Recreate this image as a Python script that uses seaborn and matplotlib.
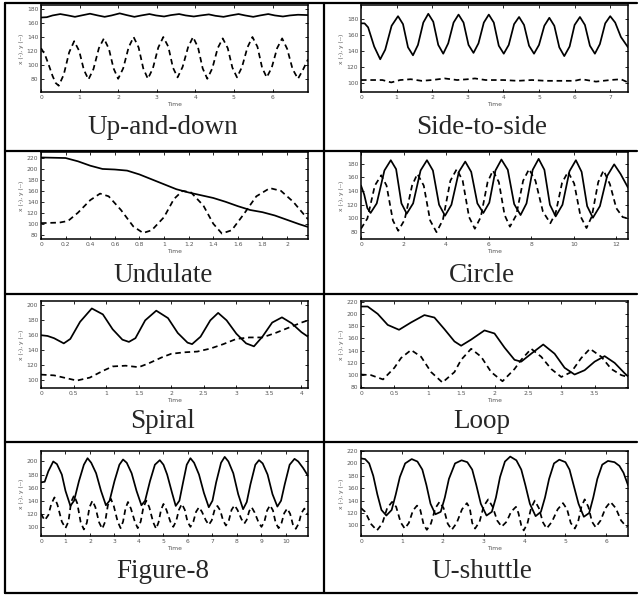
import matplotlib
matplotlib.use("Agg")
import matplotlib.pyplot as plt
import seaborn as sns
from matplotlib.lines import Line2D
from matplotlib.ticker import FormatStrFormatter

# ---------------- data ----------------
titles = ["Up-and-down", "Side-to-side", "Undulate", "Circle",
          "Spiral", "Loop", "Figure-8", "U-shuttle"]

updown_x = [(0,168),(0.15,168.5),(0.3,171),(0.5,173),(0.7,171),(0.88,169),(1.05,171),(1.27,173.5),(1.47,171),(1.65,169),(1.83,171),(2.04,174),(2.22,171.5),(2.42,169),(2.6,171),(2.81,173),(2.98,171),(3.19,169.5),(3.37,171.5),(3.58,173),(3.75,171),(3.96,169.5),(4.14,171),(4.35,172.5),(4.52,170.5),(4.73,169),(4.91,171),(5.12,173),(5.29,171),(5.5,169),(5.68,171),(5.89,173),(6.06,171),(6.27,169.5),(6.45,171),(6.66,172),(6.92,171.5)]
updown_y = [(0,124),(0.1,115),(0.2,100),(0.3,84),(0.38,74),(0.46,70),(0.59,86),(0.73,118),(0.86,134),(0.99,120),(1.11,93),(1.23,79),(1.36,94),(1.50,124),(1.63,138),(1.76,123),(1.88,95),(2.00,80),(2.13,95),(2.27,125),(2.40,140),(2.53,125),(2.65,95),(2.77,80),(2.90,95),(3.04,125),(3.17,140),(3.30,126),(3.42,96),(3.54,82),(3.67,97),(3.81,125),(3.94,140),(4.07,125),(4.19,95),(4.31,80),(4.44,95),(4.58,124),(4.71,138),(4.84,124),(4.96,96),(5.08,82),(5.21,97),(5.35,125),(5.48,140),(5.61,126),(5.73,96),(5.85,82),(5.98,96),(6.12,124),(6.25,138),(6.38,123),(6.52,94),(6.66,80),(6.79,93),(6.92,108)]

side_x = [(0,175),(0.1,175),(0.2,170),(0.37,146),(0.54,130),(0.68,142),(0.86,172),(1.04,184),(1.18,174),(1.32,145),(1.46,135),(1.6,148),(1.75,176),(1.89,187),(2.03,177),(2.17,148),(2.31,137),(2.45,150),(2.6,176),(2.74,186),(2.88,176),(3.02,148),(3.16,138),(3.3,150),(3.45,176),(3.59,186),(3.73,176),(3.87,147),(4.01,137),(4.15,148),(4.3,174),(4.44,183),(4.58,173),(4.72,147),(4.86,137),(5.0,148),(5.15,172),(5.29,182),(5.43,172),(5.57,145),(5.71,134),(5.86,146),(6.0,173),(6.15,183),(6.29,173),(6.43,147),(6.57,137),(6.71,149),(6.86,175),(7.0,184),(7.14,176),(7.3,158),(7.5,145)]
side_y = [(0,104),(0.3,104),(0.6,104),(0.85,101),(1.1,104),(1.4,105),(1.7,103),(2.0,104),(2.35,106),(2.7,104),(3.0,105),(3.2,106),(3.5,104),(4.0,104),(4.4,103),(4.8,104),(5.2,103),(5.6,103),(6.0,103),(6.2,105),(6.6,102),(7.0,104),(7.3,105),(7.5,101)]

und_x = [(0,221),(0.2,220),(0.3,214),(0.4,206),(0.5,200),(0.6,199),(0.7,197),(0.8,190),(0.9,181),(1.0,172),(1.1,163),(1.2,157),(1.3,152),(1.4,147),(1.5,140),(1.6,132),(1.7,125),(1.8,121),(1.9,115),(2.0,107),(2.1,99),(2.17,94)]
und_y = [(0,101),(0.15,102),(0.22,105),(0.3,120),(0.4,143),(0.48,155),(0.55,150),(0.65,125),(0.75,95),(0.83,83),(0.9,88),(1.0,112),(1.08,145),(1.15,160),(1.22,157),(1.32,133),(1.4,100),(1.47,82),(1.55,88),(1.65,118),(1.75,150),(1.86,165),(1.95,160),(2.05,140),(2.17,108)]

circ_x = [(0,148),(0.15,135),(0.3,115),(0.45,108),(0.74,122),(1.1,170),(1.4,185),(1.65,172),(1.9,122),(2.15,107),(2.45,122),(2.8,170),(3.1,185),(3.38,170),(3.67,120),(3.95,104),(4.25,120),(4.6,168),(4.9,183),(5.18,168),(5.47,122),(5.75,108),(6.03,123),(6.32,170),(6.6,186),(6.9,171),(7.2,121),(7.5,105),(7.78,122),(8.07,171),(8.35,187),(8.62,171),(8.88,120),(9.15,103),(9.47,120),(9.8,169),(10.1,185),(10.37,168),(10.63,118),(10.9,101),(11.23,118),(11.57,162),(11.9,179),(12.2,165),(12.55,145)]
circ_y = [(0,85),(0.3,100),(0.65,148),(0.95,163),(1.2,148),(1.5,97),(1.75,82),(2.05,98),(2.4,148),(2.65,165),(2.95,148),(3.25,97),(3.55,80),(3.85,98),(4.2,155),(4.5,172),(4.78,155),(5.08,102),(5.35,85),(5.63,102),(5.95,153),(6.2,170),(6.48,153),(6.75,105),(7.0,88),(7.3,105),(7.62,155),(7.9,172),(8.2,155),(8.55,110),(8.9,93),(9.15,108),(9.45,152),(9.73,168),(10.02,151),(10.32,103),(10.6,86),(10.85,103),(11.15,153),(11.4,170),(11.7,150),(12.0,115),(12.3,102),(12.55,100)]

spir_x = [(0,160),(0.1,159),(0.2,156),(0.35,149),(0.45,155),(0.6,178),(0.78,196),(0.95,188),(1.1,168),(1.25,154),(1.35,151),(1.45,156),(1.6,180),(1.77,193),(1.95,183),(2.1,163),(2.25,150),(2.32,148),(2.45,158),(2.6,180),(2.72,190),(2.85,180),(3.0,162),(3.15,149),(3.27,145),(3.4,158),(3.55,177),(3.7,184),(3.85,176),(4.0,164),(4.1,158)]
spir_y = [(0,107),(0.2,106),(0.4,102),(0.55,99),(0.75,103),(0.95,112),(1.1,118),(1.3,119),(1.5,117),(1.65,122),(1.85,130),(2.0,135),(2.2,137),(2.4,138),(2.6,142),(2.8,148),(3.0,155),(3.2,157),(3.4,157),(3.6,163),(3.8,170),(4.0,177),(4.1,180)]

loop_x = [(0,212),(0.1,212),(0.25,200),(0.4,182),(0.57,174),(0.75,186),(0.95,198),(1.1,194),(1.25,175),(1.4,155),(1.5,148),(1.65,158),(1.85,173),(2.0,168),(2.15,145),(2.3,125),(2.4,122),(2.55,135),(2.73,150),(2.9,135),(3.05,112),(3.2,101),(3.35,108),(3.5,122),(3.65,131),(3.8,120),(3.95,103),(4.0,98)]
loop_y = [(0,101),(0.15,100),(0.33,93),(0.5,112),(0.6,128),(0.75,141),(0.9,130),(1.05,105),(1.22,88),(1.4,105),(1.5,125),(1.65,143),(1.8,130),(1.95,105),(2.12,90),(2.3,110),(2.4,125),(2.55,143),(2.7,130),(2.85,110),(3.0,97),(3.15,105),(3.3,128),(3.43,143),(3.6,130),(3.75,110),(3.9,100),(4.0,97)]

fig8_x = [(0,168),(0.15,169),(0.3,185),(0.5,200),(0.65,196),(0.85,180),(1.0,155),(1.2,132),(1.35,140),(1.55,170),(1.75,195),(1.9,205),(2.05,198),(2.25,182),(2.45,155),(2.65,133),(2.8,140),(3.0,170),(3.2,195),(3.35,203),(3.5,198),(3.7,182),(3.9,155),(4.1,133),(4.25,140),(4.45,170),(4.65,195),(4.85,202),(5.0,195),(5.15,180),(5.35,152),(5.5,132),(5.65,140),(5.8,168),(5.95,195),(6.1,205),(6.25,198),(6.45,180),(6.65,152),(6.85,130),(7.0,140),(7.15,168),(7.35,198),(7.5,207),(7.65,200),(7.85,182),(8.05,150),(8.25,127),(8.4,138),(8.55,165),(8.75,195),(8.9,202),(9.05,197),(9.25,180),(9.45,150),(9.65,131),(9.8,140),(9.95,165),(10.15,195),(10.35,204),(10.5,200),(10.7,190),(10.9,178)]
fig8_y = [(0,120),(0.15,110),(0.3,118),(0.42,135),(0.55,145),(0.67,134),(0.85,108),(1.0,98),(1.12,108),(1.23,138),(1.35,148),(1.48,136),(1.62,107),(1.75,96),(1.87,106),(1.98,130),(2.1,140),(2.22,130),(2.37,107),(2.5,97),(2.62,108),(2.73,133),(2.85,143),(2.97,132),(3.13,108),(3.25,98),(3.35,108),(3.45,128),(3.55,138),(3.67,128),(3.83,108),(3.95,98),(4.07,108),(4.18,130),(4.3,140),(4.42,130),(4.58,107),(4.7,97),(4.8,107),(4.9,126),(5.0,135),(5.12,126),(5.28,108),(5.4,100),(5.52,109),(5.63,126),(5.75,135),(5.87,126),(5.98,108),(6.1,100),(6.22,108),(6.33,123),(6.45,130),(6.57,123),(6.73,110),(6.85,103),(6.97,110),(7.08,125),(7.2,132),(7.32,125),(7.43,110),(7.55,102),(7.67,110),(7.78,126),(7.9,133),(8.02,126),(8.18,112),(8.3,105),(8.4,111),(8.5,124),(8.6,130),(8.72,122),(8.88,107),(9.0,100),(9.12,108),(9.23,125),(9.35,133),(9.47,125),(9.58,106),(9.7,98),(9.82,106),(9.93,121),(10.05,128),(10.17,120),(10.28,104),(10.4,97),(10.52,105),(10.63,121),(10.75,128),(10.85,122),(10.9,118)]

ushut_x = [(0,208),(0.1,207),(0.2,200),(0.3,180),(0.4,150),(0.5,125),(0.62,116),(0.75,125),(0.85,150),(0.95,178),(1.08,200),(1.24,207),(1.38,203),(1.5,190),(1.6,165),(1.7,135),(1.82,118),(1.95,122),(2.05,145),(2.15,175),(2.3,200),(2.46,205),(2.6,202),(2.72,190),(2.82,165),(2.93,135),(3.07,116),(3.2,122),(3.3,145),(3.4,178),(3.52,203),(3.65,211),(3.8,205),(3.92,190),(4.02,165),(4.13,135),(4.27,115),(4.4,122),(4.5,145),(4.6,175),(4.72,200),(4.85,206),(5.0,202),(5.1,190),(5.2,165),(5.32,135),(5.45,114),(5.58,120),(5.68,145),(5.78,175),(5.9,198),(6.04,204),(6.2,202),(6.32,196),(6.42,185),(6.53,165)]
ushut_y = [(0,128),(0.1,122),(0.25,102),(0.39,92),(0.52,103),(0.64,128),(0.76,138),(0.86,130),(0.97,105),(1.07,95),(1.17,104),(1.27,124),(1.37,132),(1.45,125),(1.53,102),(1.61,93),(1.71,103),(1.82,128),(1.92,138),(2.02,128),(2.12,103),(2.22,93),(2.34,104),(2.47,126),(2.59,136),(2.66,128),(2.72,104),(2.79,95),(2.9,106),(3.0,131),(3.11,142),(3.22,130),(3.33,108),(3.44,98),(3.56,106),(3.67,122),(3.79,130),(3.85,120),(3.92,100),(3.98,92),(4.07,103),(4.16,128),(4.25,140),(4.35,128),(4.45,105),(4.54,95),(4.67,106),(4.81,126),(4.94,136),(5.04,126),(5.13,104),(5.23,95),(5.31,106),(5.39,130),(5.47,142),(5.56,130),(5.65,106),(5.74,97),(5.86,108),(5.98,128),(6.1,138),(6.23,128),(6.36,108),(6.49,98),(6.53,99)]

series_x = [updown_x, side_x, und_x, circ_x, spir_x, loop_x, fig8_x, ushut_x]
series_y = [updown_y, side_y, und_y, circ_y, spir_y, loop_y, fig8_y, ushut_y]

xlims = [(0, 6.92), (0, 7.5), (0, 2.17), (0, 12.55), (0, 4.1), (0, 4.0), (0, 10.9), (0, 6.53)]
ylims = [(61, 186), (89, 198), (72, 231), (70, 197), (89, 206), (79, 221), (86, 216), (83, 220)]
xticks = [[0, 1, 2, 3, 4, 5, 6], [0, 1, 2, 3, 4, 5, 6, 7],
          [0, 0.2, 0.4, 0.6, 0.8, 1, 1.2, 1.4, 1.6, 1.8, 2],
          [0, 2, 4, 6, 8, 10, 12], [0, 0.5, 1, 1.5, 2, 2.5, 3, 3.5, 4],
          [0, 0.5, 1, 1.5, 2, 2.5, 3, 3.5], [0, 1, 2, 3, 4, 5, 6, 7, 8, 9, 10],
          [0, 1, 2, 3, 4, 5, 6]]
yticks = [[80, 100, 120, 140, 160, 180], [100, 120, 140, 160, 180],
          [80, 100, 120, 140, 160, 180, 200, 220], [80, 100, 120, 140, 160, 180],
          [100, 120, 140, 160, 180, 200], [80, 100, 120, 140, 160, 180, 200, 220],
          [100, 120, 140, 160, 180, 200], [100, 120, 140, 160, 180, 200, 220]]

# ---------------- layout ----------------
W, H = 639, 596
sns.set_style("ticks")
plt.rcParams["font.family"] = ["DejaVu Sans"]
fig = plt.figure(figsize=(W / 100, H / 100), dpi=100)

col_x = [(41, 308), (361, 628)]
row_y = [(5, 92), (152, 239), (301, 388), (451, 536)]
title_y = [127, 276, 421, 572]
title_x = [163, 482]

for i in range(8):
    r, c = divmod(i, 2)
    x0, x1 = col_x[c]
    y0, y1 = row_y[r]
    ax = fig.add_axes([x0 / W, 1 - y1 / H, (x1 - x0) / W, (y1 - y0) / H])
    tx, vx = zip(*series_x[i])
    ty, vy = zip(*series_y[i])
    sns.lineplot(x=list(tx), y=list(vx), ax=ax, color="black", lw=1.25,
                 sort=False, estimator=None)
    sns.lineplot(x=list(ty), y=list(vy), ax=ax, color="black", lw=1.25,
                 sort=False, estimator=None, linestyle=(0, (3.2, 2.2)))
    ax.set_xlim(*xlims[i])
    ax.set_ylim(*ylims[i])
    ax.set_xticks(xticks[i])
    ax.set_yticks(yticks[i])
    ax.xaxis.set_major_formatter(FormatStrFormatter("%g"))
    ax.yaxis.set_major_formatter(FormatStrFormatter("%g"))
    ax.tick_params(direction="in", top=True, right=True, length=2, width=0.6,
                   labelsize=4.3, pad=2, colors="black", labelcolor="#555555")
    for s in ax.spines.values():
        s.set_linewidth(1.1)
        s.set_color("black")
    ax.set_xlabel("Time", fontsize=4.3, labelpad=1.5, color="#555555")
    ax.set_ylabel("x (-), y (--)", fontsize=4.3, labelpad=2, color="#555555")
    fig.text(title_x[c] / W, 1 - title_y[r] / H, titles[i], ha="center",
             va="center", fontsize=19.5, family="Liberation Serif")

# table rules
hy = [3, 151, 294, 442, 593]
for yy in hy:
    fig.add_artist(Line2D([5 / W, 637 / W], [1 - yy / H, 1 - yy / H],
                          color="black", lw=1.6, transform=fig.transFigure))
for xx in [5, 324]:
    fig.add_artist(Line2D([xx / W, xx / W], [1 - 3 / H, 1 - 593 / H],
                          color="black", lw=1.6, transform=fig.transFigure))

fig.savefig("out.png", dpi=100)
